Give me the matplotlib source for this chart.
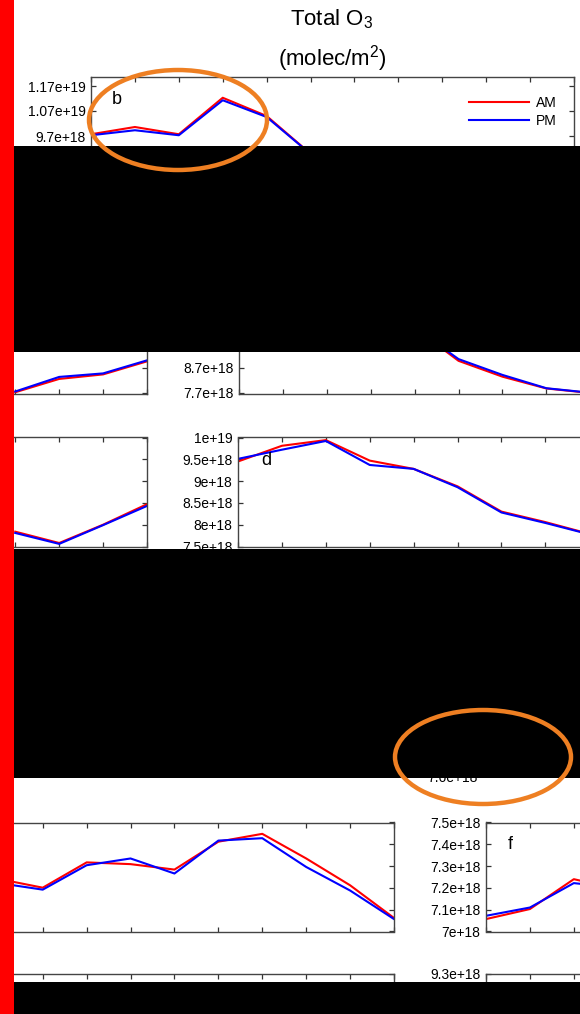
import matplotlib
matplotlib.use("Agg")
import matplotlib.pyplot as plt
from matplotlib.patches import Rectangle, Ellipse

plt.rcParams['font.family'] = ['Liberation Sans', 'DejaVu Sans']
plt.rcParams['mathtext.fontset'] = 'custom'
plt.rcParams['mathtext.rm'] = 'Liberation Sans'
plt.rcParams['mathtext.it'] = 'Liberation Sans:italic'

W, H = 580, 1014
AM_COLOR = '#ff0000'
PM_COLOR = '#0000ff'

# monthly values, only the months that show in the crop
b_months = [1, 2, 3, 4, 5, 6]
b_am = [9.77e18, 1.006e19, 9.77e18, 1.123e19, 1.050e19, 8.99e18]
b_pm = [9.73e18, 9.93e18, 9.73e18, 1.113e19, 1.046e19, 8.98e18]
b_ticks = [7.7e18, 8.7e18, 9.7e18, 1.07e19, 1.17e19]

c_months = [5, 6, 7, 8, 9]
c_am = [1.029e19, 8.98e18, 8.35e18, 7.88e18, 7.70e18]
c_pm = [1.030e19, 9.05e18, 8.42e18, 7.89e18, 7.71e18]
c_ticks = [7.7e18, 8.7e18, 9.7e18, 1.07e19, 1.17e19]

c_left_months = [9, 10, 11, 12]
c_left_am = [7.73e18, 8.26e18, 8.44e18, 8.96e18]
c_left_pm = [7.76e18, 8.34e18, 8.48e18, 9.00e18]

d_months = [1, 2, 3, 4, 5, 6, 7, 8, 9]
d_am = [9.45e18, 9.81e18, 9.94e18, 9.47e18, 9.28e18, 8.88e18, 8.30e18, 8.06e18, 7.79e18]
d_pm = [9.51e18, 9.72e18, 9.92e18, 9.37e18, 9.28e18, 8.86e18, 8.28e18, 8.04e18, 7.78e18]
d_ticks = [7.5e18, 8e18, 8.5e18, 9e18, 9.5e18, 1e19]

d_left_months = [9, 10, 11, 12]
d_left_am = [7.84e18, 7.58e18, 8.00e18, 8.47e18]
d_left_pm = [7.81e18, 7.56e18, 7.99e18, 8.43e18]

e_left_months = [3, 4, 5, 6, 7, 8, 9, 10, 11, 12]
e_left_am = [7.241e18, 7.201e18, 7.317e18, 7.309e18, 7.284e18, 7.412e18, 7.448e18, 7.335e18, 7.212e18, 7.062e18]
e_left_pm = [7.222e18, 7.192e18, 7.304e18, 7.335e18, 7.266e18, 7.417e18, 7.428e18, 7.296e18, 7.188e18, 7.057e18]

f_months = [1, 2, 3, 4]
f_am = [7.057e18, 7.103e18, 7.240e18, 7.195e18]
f_pm = [7.072e18, 7.110e18, 7.222e18, 7.200e18]
f_ticks = [7e18, 7.1e18, 7.2e18, 7.3e18, 7.4e18, 7.5e18]

g_ticks = [9.3e18]

fig = plt.figure(figsize=(W / 100, H / 100), dpi=100)
fig.patch.set_facecolor('white')

PANEL_W = 483
PANEL_H = 109


def add_panel(left, top, ylim, yticks, label=None, label_xy=None, show_labels=True):
    ax = fig.add_axes([left / W, 1 - (top + PANEL_H) / H, PANEL_W / W, PANEL_H / H])
    ax.set_xlim(1, 12)
    ax.set_ylim(*ylim)
    ax.set_xticks(range(1, 13))
    ax.set_xticklabels([])
    ax.set_yticks(yticks)
    if show_labels:
        ax.set_yticklabels(['%g' % v for v in yticks])
    else:
        ax.set_yticklabels([])
    ax.tick_params(direction='in', top=True, right=True, length=3.5, width=0.9,
                   color='#333333', labelsize=10, pad=4)
    for s in ax.spines.values():
        s.set_color('#444444')
        s.set_linewidth(1.0)
    if label:
        ax.text(label_xy[0], label_xy[1], label, transform=ax.transAxes,
                fontsize=13, ha='center', va='center')
    return ax


def draw(ax, months, am, pm):
    ax.plot(months, am, color=AM_COLOR, lw=1.5, label='AM')
    ax.plot(months, pm, color=PM_COLOR, lw=1.5, label='PM')


# row with panel b
ax_b = add_panel(91, 77, (7.72e18, 1.206e19), b_ticks, 'b', (0.054, 0.79))
draw(ax_b, b_months, b_am, b_pm)
ax_b.legend(loc='upper left', bbox_to_anchor=(462 / W, 1 - 89 / H),
            bbox_transform=fig.transFigure, frameon=False, borderpad=0,
            handlelength=4.3, handletextpad=0.5, labelspacing=0.3, fontsize=10)

# second row
ax_c0 = add_panel(147 - PANEL_W, 285.5, (7.64e18, 1.198e19), c_ticks, show_labels=False)
draw(ax_c0, c_left_months, c_left_am, c_left_pm)
ax_c = add_panel(239, 285.5, (7.64e18, 1.198e19), c_ticks)
draw(ax_c, c_months, c_am, c_pm)

# third row
ax_d0 = add_panel(147 - PANEL_W, 437.5, (7.5e18, 1e19), d_ticks, show_labels=False)
draw(ax_d0, d_left_months, d_left_am, d_left_pm)
ax_d = add_panel(238, 437.5, (7.5e18, 1e19), d_ticks, 'd', (0.058, 0.79))
draw(ax_d, d_months, d_am, d_pm)

# fifth row
ax_e0 = add_panel(394 - PANEL_W, 822.5, (7e18, 7.5e18), f_ticks, show_labels=False)
draw(ax_e0, e_left_months, e_left_am, e_left_pm)
ax_f = add_panel(486, 822.5, (7e18, 7.5e18), f_ticks, 'f', (0.050, 0.80))
draw(ax_f, f_months, f_am, f_pm)

# last row, only its top edge shows
ax_g0 = add_panel(394 - PANEL_W, 973.5, (7.3e18, 9.3e18), g_ticks, show_labels=False)
ax_g = add_panel(486, 973.5, (7.3e18, 9.3e18), g_ticks)

# title
fig.text(332 / W, 1 - 19 / H, 'Total O$_3$', ha='center', va='center', fontsize=16)
fig.text(332 / W, 1 - 59 / H, '(molec/m$^2$)', ha='center', va='center', fontsize=16)

# tick label half hidden under the lower black box
fig.text(478 / W, 1 - 778 / H, '7.6e+18', ha='right', va='center', fontsize=10, zorder=2)

# redaction boxes
for top, bottom in [(146.5, 351.5), (548.5, 777.5), (981.5, 1014)]:
    fig.add_artist(Rectangle((0, 1 - bottom / H), 1, (bottom - top) / H,
                             transform=fig.transFigure, facecolor='black',
                             edgecolor='none', zorder=10))

# orange highlight rings
for cx, cy, w, h in [(178, 120, 178, 100), (483, 757, 176, 94)]:
    fig.add_artist(Ellipse((cx / W, 1 - cy / H), w / W, h / H,
                           transform=fig.transFigure, fill=False,
                           edgecolor='#ee7f22', linewidth=3.2, zorder=11))

# red bar on the left edge
fig.add_artist(Rectangle((0, 0), 14 / W, 1, transform=fig.transFigure,
                         facecolor='#ff0000', edgecolor='none', zorder=12))

fig.savefig('out.png', dpi=100)
